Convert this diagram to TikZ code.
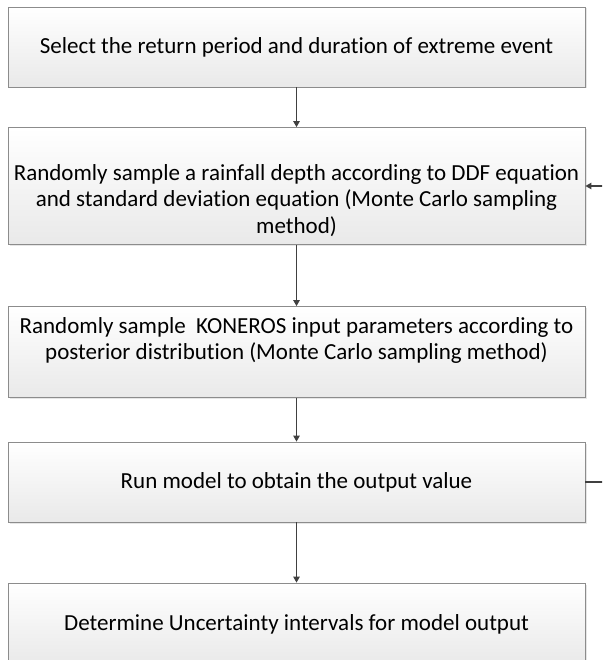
\documentclass[tikz,border=0pt]{standalone}
\usepackage{fontspec}
\setmainfont[Ligatures=NoCommon]{Carlito}
\usetikzlibrary{shadows,arrows.meta}
\definecolor{boxline}{HTML}{8C8C8C}
\definecolor{boxbot}{HTML}{E9E9E9}
\definecolor{arrowgray}{HTML}{404040}
\begin{document}
\begin{tikzpicture}[>={Triangle[length=6pt,width=6.5pt]}, x=1pt, y=-1pt,
    stepbox/.style={draw=boxline, line width=0.8pt, top color=white, bottom color=boxbot,
        minimum width=577pt, inner xsep=0pt, inner ysep=0pt, align=center,
        font=\fontsize{23}{26.5}\selectfont,
        drop shadow={shadow xshift=1.5pt, shadow yshift=-1.5pt, opacity=0.2}},
    flow/.style={->, draw=arrowgray, line width=1.1pt}]
        \useasboundingbox (0,0) rectangle (602,660);
        \clip (0,0) rectangle (602,660);

        % Kroky postupu
        \node[stepbox, minimum height=80pt] (sel) at (296.5,47)
            {Select the return period and duration of extreme event};
        \node[stepbox, minimum height=117pt] (samp) at (296.5,186)
            {\strut\\ Randomly sample a rainfall depth according to DDF equation\\
             and standard deviation equation (Monte Carlo sampling\\
             method)};
        \node[stepbox, minimum height=91pt] (koner) at (296.5,352)
            {Randomly sample\ \ KONEROS input parameters according to\\
             posterior distribution (Monte Carlo sampling method)\\ \mbox{}};
        \node[stepbox, minimum height=80pt] (run) at (296.5,482)
            {Run model to obtain the output value};
        \node[stepbox, minimum height=82pt] (unc) at (296.5,624)
            {Determine Uncertainty intervals for model output};

        % Spojnice
        \draw[flow] (sel) -- (samp);
        \draw[flow] (samp) -- (koner);
        \draw[flow] (koner) -- (run);
        \draw[flow] (run) -- (unc);

        % Zpetna smycka (Monte Carlo opakovani)
        \draw[flow] (run.east) -- ++(40,0) |- (samp.east);
    \end{tikzpicture}
\end{document}
